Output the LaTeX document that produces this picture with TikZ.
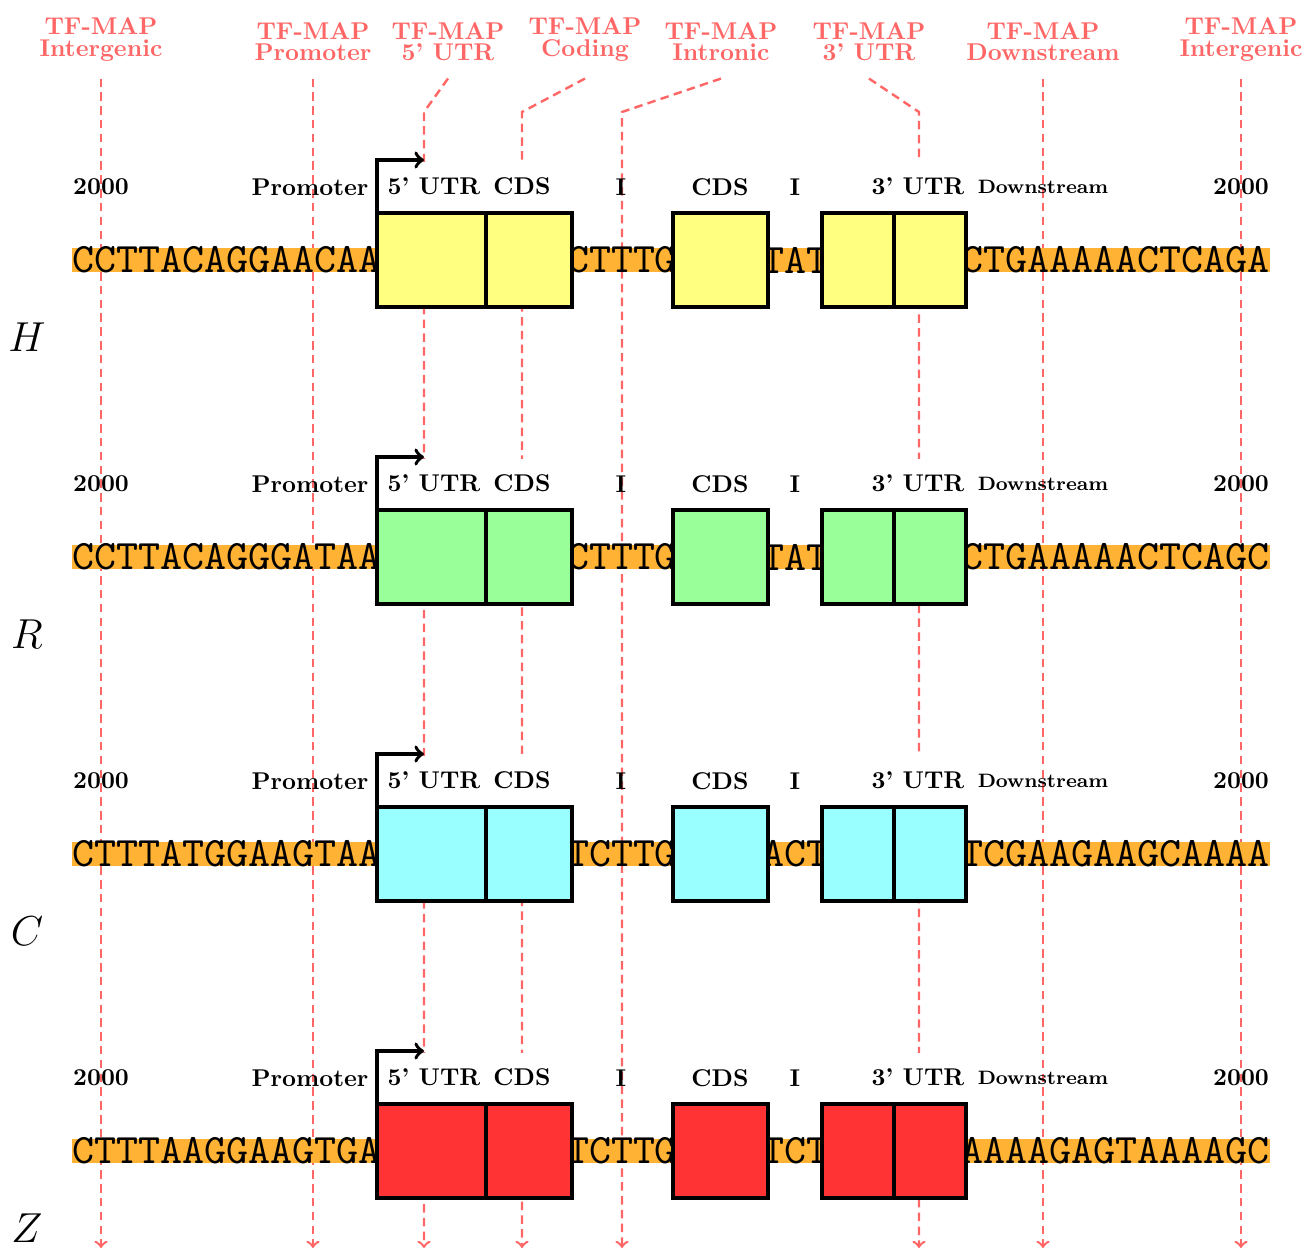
\documentclass[tikz,border=0pt]{standalone}
\usepackage{amsmath}
\usepackage{amssymb}
\usepackage{fontspec}
\newfontfamily\seqfont{lmmono10-regular.otf}
\usetikzlibrary{positioning}

\definecolor{mapred}{RGB}{255,102,102}
\definecolor{seqband}{RGB}{255,178,51}
\definecolor{exonH}{RGB}{255,255,128}
\definecolor{exonR}{RGB}{153,255,153}
\definecolor{exonC}{RGB}{153,255,255}
\definecolor{exonZ}{RGB}{255,51,51}

\begin{document}
\begin{tikzpicture}[x=0.0145cm,y=-0.0145cm,
	maplab/.style={text=mapred,font=\bfseries,align=center,anchor=south,inner sep=1pt},
	mapline/.style={mapred,line width=1pt,dash pattern=on 3.5pt off 2.2pt,->},
	seq/.style={font=\LARGE\seqfont,inner sep=0pt},
	band/.style={seqband,line width=10pt},
	exon/.style={draw,line width=2pt,outer sep=0pt,inner sep=0pt,minimum height=1.363cm},
	reglab/.style={font=\bfseries},
	exonlab/.style={font=\bfseries,fill=white,anchor=south,minimum height=20pt,inner sep=1pt},
	tss/.style={line width=1.5pt,->}]

	\useasboundingbox (0,0) rectangle (1304,1249);

	\foreach \n/\x/\bx/\t in {int-l/101/101/Intergenic, prom/313/313/Promoter, utr5/448/424/5' UTR, cod/585/522/Coding, intr/721/622/Intronic, utr3/869/919/3' UTR, down/1043/1043/Downstream, int-r/1241/1241/Intergenic} {
		\node[maplab] (map-\n) at (\x,64) {TF-MAP\\[-3pt]\t};
		\coordinate (bend-\n) at (\bx,112);
		\coordinate (end-\n) at (\bx,1248);
		\draw[mapline] ([yshift=-6pt]map-\n.south) -- (bend-\n) -- (end-\n);
	}

	\foreach \r/\y/\seqa/\seqb/\seqc/\seqd in {H/260/CCTTACAGGAACAA/CTTTG/TAT/CTGAAAAACTCAGA, R/557/CCTTACAGGGATAA/CTTTG/TAT/CTGAAAAACTCAGC, C/854/CTTTATGGAAGTAA/TCTTG/ACT/TCGAAGAAGCAAAA, Z/1151/CTTTAAGGAAGTGA/TCTTG/TCT/AAAAGAGTAAAAGC} {
		\coordinate (band-l-\r) at (72,\y);
		\coordinate (band-r-\r) at (1270,\y);
		\draw[band] (band-l-\r) -- (band-r-\r);
		\node[seq,anchor=west] (seqa-\r) at (band-l-\r) {\seqa};
		\node[seq] (seqb-\r) at (622,\y) {\seqb};
		\node[seq] (seqc-\r) at (795,\y) {\seqc};
		\node[seq,anchor=east] (seqd-\r) at (band-r-\r) {\seqd};

		\node[exon,fill=exon\r,minimum width=1.58cm] (utr5-\r) at (431.5,\y) {};
		\node[exon,fill=exon\r,minimum width=1.247cm,right=0pt of utr5-\r] (cds1-\r) {};
		\node[exon,fill=exon\r,minimum width=1.378cm] (cds2-\r) at (720.5,\y) {};
		\node[exon,fill=exon\r,minimum width=1.044cm] (utr3a-\r) at (858,\y) {};
		\node[exon,fill=exon\r,minimum width=1.044cm,right=0pt of utr3a-\r] (utr3b-\r) {};

		\node[reglab] (lab-int-l-\r) at (101,\y-73) {2000};
		\node[reglab] (lab-prom-\r) at (310,\y-73) {Promoter};
		\node[exonlab] (lab-utr5-\r) at (434,\y-49) {5' UTR};
		\node[exonlab] (lab-cds1-\r) at (522,\y-49) {CDS};
		\node[reglab] (lab-intr1-\r) at (621,\y-73) {I};
		\node[reglab] (lab-cds2-\r) at (720,\y-73) {CDS};
		\node[reglab] (lab-intr2-\r) at (795,\y-73) {I};
		\node[exonlab] (lab-utr3-\r) at (918,\y-49) {3' UTR};
		\node[reglab,font=\bfseries\footnotesize] (lab-down-\r) at (1043,\y-73) {Downstream};
		\node[reglab] (lab-int-r-\r) at (1241,\y-73) {2000};

		\node[font=\LARGE] (name-\r) at (27,\y+77) {$\r$};

		\coordinate (tss-\r) at (424,\y-100);
		\draw[tss] (utr5-\r.north west) |- (tss-\r);
	}
\end{tikzpicture}
\end{document}
